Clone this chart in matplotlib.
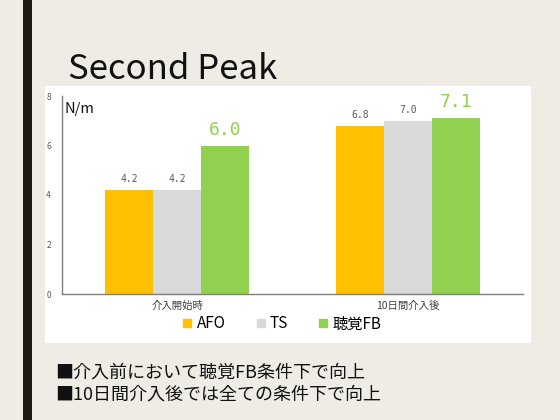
import matplotlib
matplotlib.use("Agg")
import matplotlib.pyplot as plt
from matplotlib.patches import Rectangle
from matplotlib.lines import Line2D
import numpy as np

plt.rcParams['font.family'] = ['Noto Sans CJK JP', 'DejaVu Sans']

categories = ["介入開始時", "10日間介入後"]
series_names = ["AFO", "TS", "聴覚FB"]
afo = [4.2, 6.8]
ts = [4.2, 7.0]
fb = [6.0, 7.1]
yticks = [0, 2, 4, 6, 8]
colors = ["#FFC000", "#D9D9D9", "#92D050"]
title = "Second Peak"
unit = "N/m"
notes = ["■介入前において聴覚FB条件下で向上", "■10日間介入後では全ての条件下で向上"]

W, H = 560, 420
fig = plt.figure(figsize=(5.6, 4.2), dpi=100)
fig.patch.set_facecolor("#EEECE5")

def fx(x): return x / W
def fy(y): return 1 - y / H

bg = fig.add_axes([0, 0, 1, 1], zorder=-5)
bg.set_xlim(0, 1); bg.set_ylim(0, 1); bg.axis("off")
bg.add_patch(Rectangle((fx(22.5), 0), fx(32) - fx(22.5), 1, facecolor="#1C1C12", edgecolor="none"))
bg.add_patch(Rectangle((fx(45), fy(343)), fx(531) - fx(45), fy(86) - fy(343),
                       facecolor="white", edgecolor="none"))

fig.text(fx(68), fy(79), title, fontsize=25, color="#111111", va="baseline", ha="left")

ax = fig.add_axes([fx(62), fy(294), fx(523) - fx(62), fy(96) - fy(294)], zorder=1)
ax.set_facecolor("none")
x = np.arange(len(categories))
bw = 0.208
vals = [afo, ts, fb]
bars = []
for i, (v, c) in enumerate(zip(vals, colors)):
    b = ax.bar(x + (i - 1) * bw, v, bw, color=c, edgecolor="none", label=series_names[i], zorder=2)
    bars.append(b)

ax.bar_label(bars[0], fmt="%.1f", padding=4, fontsize=7, color="#595959", family="DejaVu Sans Mono")
ax.bar_label(bars[1], fmt="%.1f", padding=4, fontsize=7, color="#595959", family="DejaVu Sans Mono")
ax.bar_label(bars[2], fmt="%.1f", padding=5, fontsize=13, color="#92D050", family="DejaVu Sans Mono")

ax.set_xlim(-0.5, 1.5)
ax.set_ylim(0, 8)
ax.set_yticks(yticks)
ax.set_yticklabels([str(t) for t in yticks], fontsize=6, color="#595959")
ax.set_xticks(x)
ax.set_xticklabels(categories, fontsize=7.5, color="#404040")
ax.tick_params(axis="both", length=0, pad=8)
ax.tick_params(axis="x", pad=5)
for s in ["top", "right"]:
    ax.spines[s].set_visible(False)
for s in ["left", "bottom"]:
    ax.spines[s].set_color("#7F7F7F")
    ax.spines[s].set_linewidth(1)

fig.text(fx(64), fy(109), unit, fontsize=10.5, color="#111111", va="center", ha="left")

handles = [Line2D([], [], marker="s", linestyle="none", markersize=5.5, color=c) for c in colors]
fig.legend(handles, series_names, loc="center", bbox_to_anchor=(fx(282), fy(324)), ncol=3,
           frameon=False, fontsize=11, handlelength=0.6, handletextpad=0.3, columnspacing=2.0,
           borderaxespad=0, borderpad=0)

fig.text(fx(55), fy(373), notes[0], fontsize=13, color="#111111", va="center", ha="left")
fig.text(fx(55), fy(395), notes[1], fontsize=13, color="#111111", va="center", ha="left")

fig.savefig("out.png", dpi=100, facecolor=fig.get_facecolor())
